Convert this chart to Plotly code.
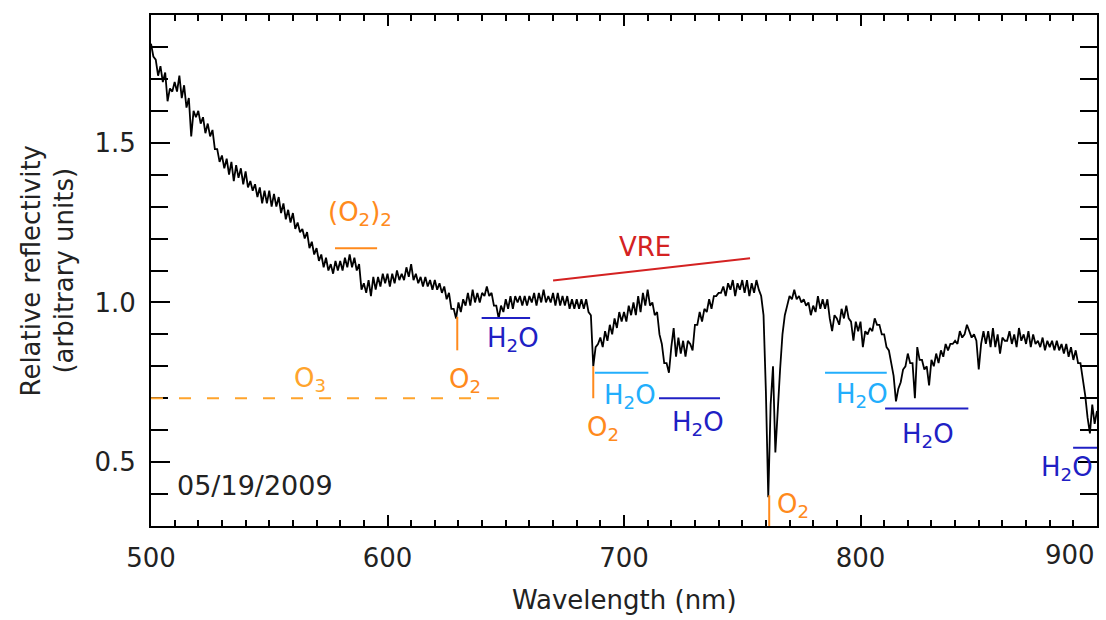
import plotly.graph_objects as go

# ---------------- data ----------------
wavelength = list(range(500, 901))  # nm, 1 nm step

reflectivity = [
    1.81, 1.77, 1.76, 1.71, 1.74, 1.69, 1.72, 1.63, 1.67, 1.66,  # 500
    1.69, 1.66, 1.71, 1.64, 1.68, 1.61, 1.64, 1.52, 1.60, 1.58,  # 510
    1.60, 1.56, 1.58, 1.53, 1.56, 1.52, 1.54, 1.48, 1.48, 1.44,  # 520
    1.46, 1.42, 1.45, 1.40, 1.44, 1.38, 1.43, 1.39, 1.42, 1.37,  # 530
    1.41, 1.36, 1.38, 1.35, 1.37, 1.33, 1.36, 1.31, 1.35, 1.31,  # 540
    1.35, 1.30, 1.34, 1.30, 1.33, 1.28, 1.31, 1.26, 1.29, 1.25,  # 550
    1.28, 1.23, 1.25, 1.22, 1.23, 1.20, 1.22, 1.17, 1.19, 1.15,  # 560
    1.17, 1.13, 1.15, 1.11, 1.14, 1.10, 1.12, 1.09, 1.13, 1.10,  # 570
    1.13, 1.10, 1.14, 1.11, 1.15, 1.11, 1.14, 1.10, 1.12, 1.04,  # 580
    1.06, 1.03, 1.07, 1.02, 1.08, 1.04, 1.08, 1.05, 1.09, 1.06,  # 590
    1.09, 1.05, 1.09, 1.06, 1.10, 1.07, 1.09, 1.07, 1.11, 1.08,  # 600
    1.12, 1.07, 1.09, 1.06, 1.08, 1.05, 1.08, 1.05, 1.07, 1.04,  # 610
    1.07, 1.04, 1.06, 1.03, 1.05, 1.01, 1.03, 0.98, 0.98, 0.95,  # 620
    1.00, 0.97, 1.01, 0.99, 1.03, 0.99, 1.04, 1.00, 1.03, 1.00,  # 630
    1.03, 1.02, 1.05, 1.02, 1.03, 0.99, 0.99, 0.95, 0.99, 0.97,  # 640
    1.01, 0.98, 1.02, 0.98, 1.02, 1.00, 1.02, 0.99, 1.02, 0.99,  # 650
    1.02, 1.00, 1.03, 0.99, 1.03, 1.00, 1.04, 1.00, 1.02, 1.00,  # 660
    1.03, 0.99, 1.03, 0.99, 1.02, 0.99, 1.02, 0.98, 1.01, 0.98,  # 670
    1.01, 0.98, 1.01, 0.98, 1.01, 0.97, 0.96, 0.80, 0.86, 0.87,  # 680
    0.89, 0.86, 0.91, 0.88, 0.93, 0.90, 0.95, 0.92, 0.97, 0.94,  # 690
    0.97, 0.94, 0.99, 0.96, 1.00, 0.96, 1.02, 0.97, 1.03, 0.99,  # 700
    1.04, 0.99, 1.00, 0.96, 0.97, 0.90, 0.87, 0.81, 0.81, 0.78,  # 710
    0.86, 0.92, 0.83, 0.89, 0.84, 0.88, 0.83, 0.88, 0.87, 0.85,  # 720
    0.93, 0.93, 0.97, 0.94, 0.98, 0.97, 1.01, 0.98, 1.02, 1.02,  # 730
    1.03, 1.03, 1.05, 1.02, 1.06, 1.04, 1.07, 1.02, 1.06, 1.04,  # 740
    1.07, 1.03, 1.07, 1.02, 1.06, 1.03, 1.07, 1.04, 1.02, 0.96,  # 750
    0.72, 0.39, 0.68, 0.80, 0.53, 0.68, 0.79, 0.90, 0.96, 0.99,  # 760
    1.02, 1.01, 1.04, 1.01, 1.02, 1.00, 1.01, 0.99, 1.00, 0.96,  # 770
    0.99, 0.97, 1.02, 0.98, 1.01, 0.98, 1.01, 0.95, 0.91, 0.96,  # 780
    0.95, 0.93, 0.98, 0.95, 0.99, 0.95, 0.94, 0.88, 0.94, 0.91,  # 790
    0.94, 0.86, 0.91, 0.90, 0.92, 0.91, 0.95, 0.93, 0.93, 0.90,  # 800
    0.90, 0.86, 0.85, 0.81, 0.77, 0.69, 0.73, 0.75, 0.79, 0.80,  # 810
    0.84, 0.81, 0.81, 0.70, 0.86, 0.82, 0.82, 0.79, 0.80, 0.74,  # 820
    0.82, 0.80, 0.84, 0.81, 0.85, 0.83, 0.87, 0.85, 0.87, 0.87,  # 830
    0.88, 0.87, 0.91, 0.89, 0.90, 0.93, 0.91, 0.89, 0.90, 0.88,  # 840
    0.79, 0.87, 0.91, 0.87, 0.91, 0.86, 0.92, 0.86, 0.90, 0.84,  # 850
    0.89, 0.88, 0.88, 0.91, 0.87, 0.90, 0.86, 0.92, 0.88, 0.90,  # 860
    0.87, 0.91, 0.86, 0.90, 0.87, 0.88, 0.86, 0.89, 0.85, 0.88,  # 870
    0.86, 0.88, 0.85, 0.88, 0.85, 0.87, 0.84, 0.87, 0.83, 0.86,  # 880
    0.82, 0.85, 0.81, 0.81, 0.76, 0.71, 0.64, 0.59, 0.68, 0.62,  # 890
    0.66,                                                        # 900
]

x_tick_values = [500, 600, 700, 800, 900]
x_tick_labels = ["500", "600", "700", "800", "900"]
y_tick_labels = ["0.5", "1.0", "1.5"]

# absorption-band markers: wavelength span and level
band_names = ["(O2)2", "VRE", "O3", "O2", "H2O", "O2", "H2O", "H2O", "O2", "H2O", "H2O", "H2O"]
band_kind = ["o2", "vre", "o3", "o2", "h2o", "o2", "h2o_l", "h2o", "o2", "h2o_l", "h2o", "h2o"]
band_x0 = [577.8, 670.0, 500.0, 629.5, 639.8, 687.0, 687.7, 714.8, 761.4, 785.0, 810.4, 889.9]
band_x1 = [595.6, 753.3, 649.7, 629.5, 660.3, 687.0, 710.3, 740.6, 761.4, 811.1, 845.6, 900.0]
band_y0 = [1.170, 1.069, 0.700, 0.955, 0.951, 0.800, 0.780, 0.700, 0.396, 0.780, 0.668, 0.545]
band_y1 = [1.170, 1.138, 0.700, 0.850, 0.951, 0.700, 0.780, 0.700, 0.300, 0.780, 0.668, 0.545]
label_x = [588.4, 708.9, 567.2, 632.8, 653.2, 691.3, 702.5, 731.4, 771.6, 800.5, 828.7, 887.2]
label_y = [1.277, 1.173, 0.758, 0.755, 0.883, 0.605, 0.704, 0.620, 0.364, 0.710, 0.584, 0.479]

date_text = "05/19/2009"

# ---------------- styling ----------------
FONT = "DejaVu Sans"
TEXT_COLOR = "#222222"
COLORS = {
    "o2": "#ff8a1c",
    "o3": "#ffa42c",
    "vre": "#d42222",
    "h2o": "#2020c4",
    "h2o_l": "#22aefc",
}
LABEL_HTML = {
    "(O2)2": "(O<sub>2</sub>)<sub>2</sub>",
    "VRE": "VRE",
    "O3": "O<sub>3</sub>",
    "O2": "O<sub>2</sub>",
    "H2O": "H<sub>2</sub>O",
}

fig = go.Figure()
fig.add_trace(go.Scatter(
    x=wavelength, y=reflectivity, mode="lines",
    line=dict(color="black", width=1.8), showlegend=False, hoverinfo="skip",
))

for name, kind, x0, x1, y0, y1, lx, ly in zip(band_names, band_kind, band_x0, band_x1,
                                               band_y0, band_y1, label_x, label_y):
    col = COLORS[kind]
    fig.add_shape(
        type="line", xref="x", yref="y", x0=x0, x1=x1, y0=y0, y1=y1,
        line=dict(color=col, width=2, dash="12px,16px" if kind == "o3" else "solid"),
    )
    fig.add_annotation(
        x=lx, y=ly, xref="x", yref="y", text=LABEL_HTML[name], showarrow=False,
        font=dict(family=FONT, size=26, color=col), xanchor="center", yanchor="middle",
    )

fig.add_annotation(
    x=510.1, y=0.427, xref="x", yref="y", text=date_text, showarrow=False,
    font=dict(family=FONT, size=27, color=TEXT_COLOR), xanchor="left", yanchor="middle",
)

# last x tick label kept inside the figure (right-aligned at the axis end)
fig.add_annotation(
    x=x_tick_values[-1], y=0, xref="x", yref="paper", yshift=-29, text=x_tick_labels[-1],
    showarrow=False, font=dict(family=FONT, size=26, color=TEXT_COLOR),
    xanchor="right", yanchor="middle",
)

# axis titles
fig.add_annotation(
    x=0.5, y=0, xref="paper", yref="paper", yshift=-74, text="Wavelength (nm)",
    showarrow=False, font=dict(family=FONT, size=26, color=TEXT_COLOR),
    xanchor="center", yanchor="middle",
)
fig.add_annotation(
    x=0, y=1.1, xref="paper", yref="y", xshift=-104, textangle=-90,
    text="Relative reflectivity<br>(arbitrary units)", showarrow=False,
    font=dict(family=FONT, size=26, color=TEXT_COLOR), xanchor="center", yanchor="middle",
)

axis_common = dict(
    showline=True, linecolor="black", linewidth=2, mirror="allticks",
    ticks="inside", tickcolor="black", tickwidth=1.6,
    showgrid=False, zeroline=False,
    tickfont=dict(family=FONT, size=26, color=TEXT_COLOR),
)

fig.update_xaxes(
    range=[500, 900], tickmode="array", tickvals=x_tick_values,
    ticktext=x_tick_labels[:-1] + [""], ticklen=11,
    ticklabelstandoff=8,
    minor=dict(ticks="inside", dtick=10, tick0=500, ticklen=6, tickcolor="black",
               tickwidth=1.6, showgrid=False),
    **axis_common,
)
fig.update_yaxes(
    range=[0.3, 1.9], tickmode="array", tickvals=[0.5, 1.0, 1.5], ticktext=y_tick_labels,
    ticklen=19, ticklabelstandoff=8,
    minor=dict(ticks="inside", dtick=0.1, tick0=0, ticklen=17, tickcolor="black",
               tickwidth=1.6, showgrid=False),
    **axis_common,
)

fig.update_layout(
    width=1106, height=620,
    margin=dict(l=151, r=9, t=15, b=94, autoexpand=False),
    paper_bgcolor="white", plot_bgcolor="white",
    showlegend=False,
    font=dict(family=FONT),
)

fig.write_html("out.html")
